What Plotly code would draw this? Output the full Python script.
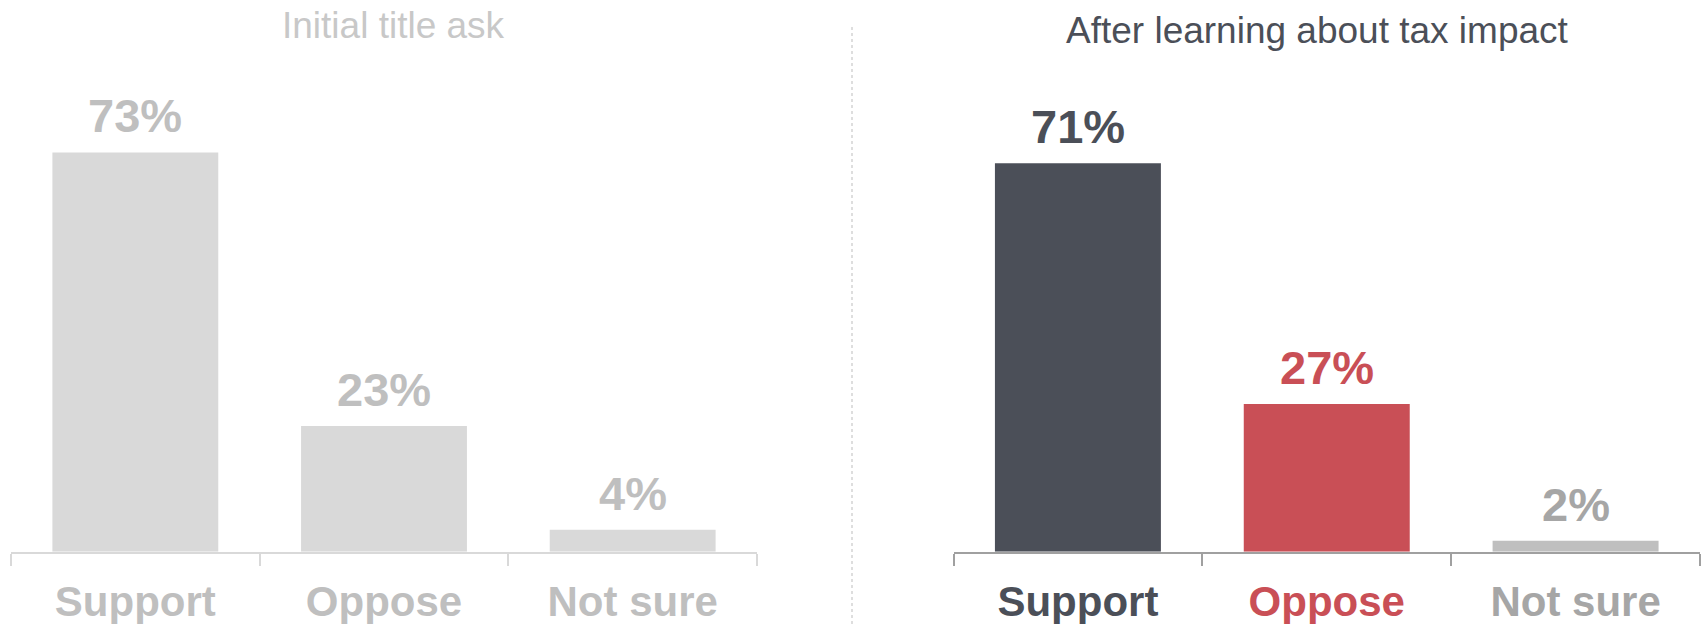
import plotly.graph_objects as go

categories = ["Support", "Oppose", "Not sure"]
initial_values = [73, 23, 4]
after_values = [71, 27, 2]
panel_titles = ["Initial title ask", "After learning about tax impact"]

W, H = 1701, 624
FONT = "Liberation Sans, Arial, sans-serif"

left_bar_colors = ["#D9D9D9", "#D9D9D9", "#D9D9D9"]
left_text_colors = ["#BFBFBF", "#BFBFBF", "#BFBFBF"]
right_bar_colors = ["#4B4F58", "#C94F56", "#BFBFBF"]
right_text_colors = ["#4B4F58", "#C94F56", "#A6A6A6"]

fig = go.Figure()
fig.add_trace(go.Bar(x=categories, y=initial_values, marker_color=left_bar_colors,
                     marker_line_width=0, xaxis="x", yaxis="y", hoverinfo="skip"))
fig.add_trace(go.Bar(x=categories, y=after_values, marker_color=right_bar_colors,
                     marker_line_width=0, xaxis="x2", yaxis="y2", hoverinfo="skip"))

# value labels
for xa, ya, vals, cols in [("x", "y", initial_values, left_text_colors),
                           ("x2", "y2", after_values, right_text_colors)]:
    for c, v, col in zip(categories, vals, cols):
        fig.add_annotation(x=c, y=v, xref=xa, yref=ya, text=f"<b>{v}%</b>",
                           showarrow=False, yanchor="bottom", yshift=8,
                           font=dict(family=FONT, size=47, color=col))

y_bottom = (H - 551.7) / H
y_top = (H - (551.7 - 80 * 5.47)) / H

def xaxis_cfg(x0, x1, linecolor, textcols):
    return dict(domain=[x0 / W, x1 / W], range=[-0.5, 2.5], showline=True,
                linecolor=linecolor, linewidth=2, ticks="outside", tickson="boundaries",
                ticklen=12, tickwidth=1.5, tickcolor=linecolor, showgrid=False,
                tickmode="array", tickvals=categories,
                ticktext=[f"<span style='color:{c}'><b>{t}</b></span>" for t, c in zip(categories, textcols)],
                tickfont=dict(family=FONT, size=42), ticklabelstandoff=12,
                fixedrange=True)

fig.update_layout(
    width=W, height=H,
    margin=dict(l=0, r=0, t=0, b=0),
    paper_bgcolor="white", plot_bgcolor="white",
    showlegend=False, bargap=0.333,
    xaxis=xaxis_cfg(11, 757, "#D9D9D9", left_text_colors),
    xaxis2=xaxis_cfg(953.5, 1700, "#A0A0A0", right_text_colors),
    yaxis=dict(domain=[y_bottom, y_top], range=[0, 80], visible=False, fixedrange=True),
    yaxis2=dict(domain=[y_bottom, y_top], range=[0, 80], visible=False, fixedrange=True, anchor="x2"),
)
fig.update_layout(xaxis2=dict(anchor="y2"), yaxis=dict(anchor="x"))

# panel titles
fig.add_annotation(x=393 / W, y=1 - 26 / H, xref="paper", yref="paper", text=panel_titles[0],
                   showarrow=False, xanchor="center", yanchor="middle",
                   font=dict(family=FONT, size=37, color="#C8C8C8"))
fig.add_annotation(x=1317.5 / W, y=1 - 30 / H, xref="paper", yref="paper", text=panel_titles[1],
                   showarrow=False, xanchor="center", yanchor="middle",
                   font=dict(family=FONT, size=37, color="#4B4F58"))

# dotted divider
fig.add_shape(type="line", xref="paper", yref="paper", x0=852 / W, x1=852 / W,
              y0=0, y1=1 - 26 / H, line=dict(color="#C8C8C8", width=1.2, dash="dot"))

fig.write_html("out.html", config={"displayModeBar": False},
               post_script="document.body.style.margin='0';document.body.style.overflow='hidden';")
